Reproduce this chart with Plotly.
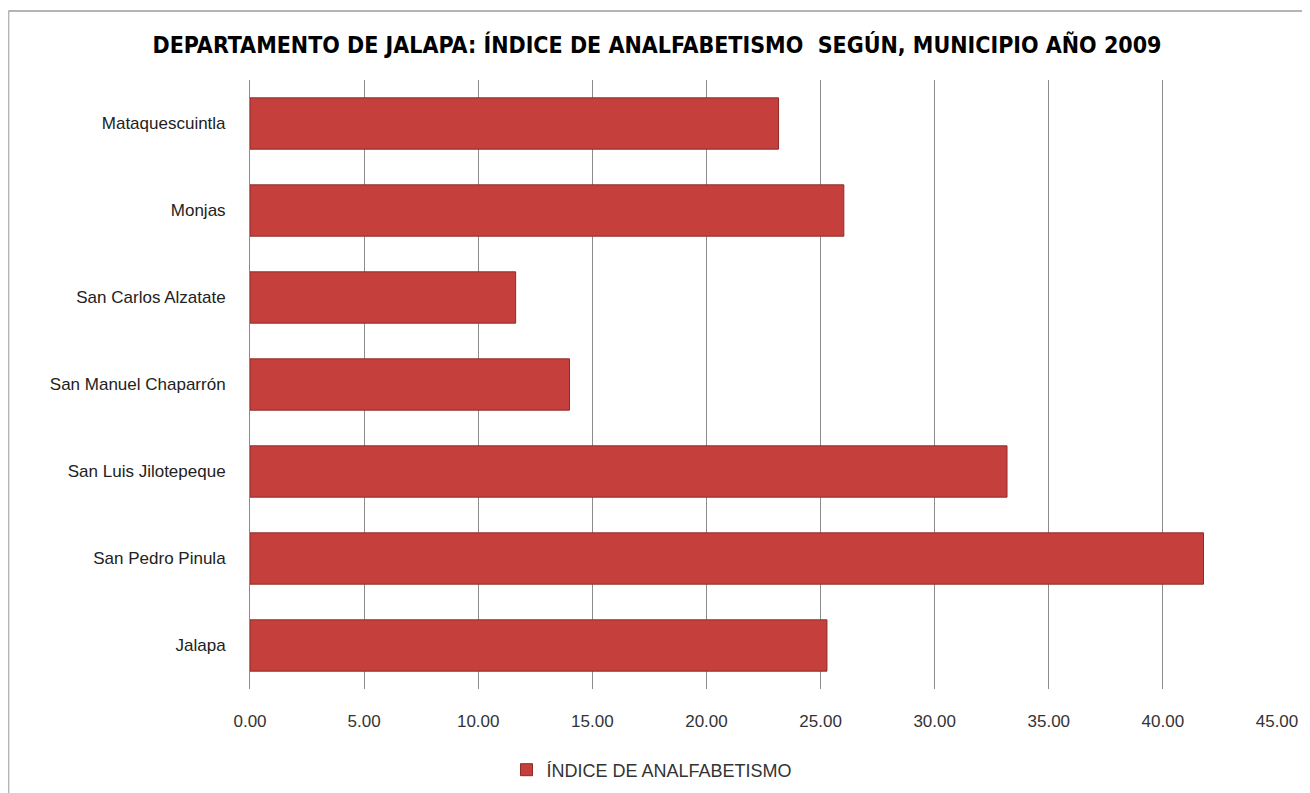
import plotly.graph_objects as go

municipios = [
    "Mataquescuintla",
    "Monjas",
    "San Carlos Alzatate",
    "San Manuel Chaparrón",
    "San Luis Jilotepeque",
    "San Pedro Pinula",
    "Jalapa",
]
indice = [23.16, 26.02, 11.64, 14.00, 33.17, 41.78, 25.28]
x_ticks = [0, 5, 10, 15, 20, 25, 30, 35, 40, 45]

# the page body has an 8px margin, so the figure is sized/placed to compensate
OFF = 8
W, H = 1310 - OFF, 793 - OFF
L, R, T, B = 250 - OFF, 23, 80 - OFF, 104
narrow = "DejaVu Sans Condensed, Liberation Sans Narrow, Liberation Sans, Arial"


def px_x(px):
    return (px - OFF - L) / (W - L - R)


def px_y(py):
    return (H - B - (py - OFF)) / (H - T - B)


fig = go.Figure()
fig.add_trace(
    go.Bar(
        x=indice,
        y=municipios,
        orientation="h",
        name="ÍNDICE DE ANALFABETISMO",
        marker=dict(color="#C5403C", line=dict(color="#8E2B29", width=1)),
    )
)

# outer chart frame (only top and left edges are visible in the picture)
frame = dict(color="#b4b4b4", width=2)
fig.add_shape(type="line", xref="paper", yref="paper",
              x0=px_x(6), x1=px_x(1320), y0=px_y(11), y1=px_y(11), line=frame)
fig.add_shape(type="line", xref="paper", yref="paper",
              x0=px_x(6), x1=px_x(6), y0=px_y(11), y1=px_y(800), line=frame)

fig.update_layout(
    width=W,
    height=H,
    margin=dict(l=L, r=R, t=T, b=B),
    paper_bgcolor="white",
    plot_bgcolor="white",
    bargap=0.41,
    title=dict(
        text="<b>DEPARTAMENTO DE JALAPA: ÍNDICE DE ANALFABETISMO  SEGÚN, MUNICIPIO AÑO 2009</b>",
        x=(657 - OFF) / W,
        xanchor="center",
        y=1 - (45 - OFF) / H,
        yanchor="middle",
        font=dict(family=narrow, size=23, color="black"),
    ),
    showlegend=True,
    legend=dict(
        orientation="h",
        x=(652 - OFF) / W,
        xanchor="center",
        xref="container",
        y=1 - (770 - OFF) / H,
        yref="container",
        yanchor="middle",
        font=dict(family="Liberation Sans, Arial", size=18, color="#333333"),
        itemwidth=30,
    ),
)

fig.update_xaxes(
    range=[0, 45],
    tickvals=x_ticks,
    ticktext=[f"{v:.2f}" for v in x_ticks],
    showgrid=True,
    gridcolor="#8c8c8c",
    gridwidth=1,
    zeroline=False,
    showline=False,
    ticks="",
    ticklabelstandoff=20,
    tickfont=dict(family="Liberation Sans, Arial", size=17, color="#333333"),
    fixedrange=True,
)
fig.update_yaxes(
    autorange="reversed",
    showline=True,
    linecolor="#8c8c8c",
    linewidth=1,
    showgrid=False,
    ticks="",
    ticklabelstandoff=20,
    tickfont=dict(family="Liberation Sans, Arial", size=17, color="#222222"),
    fixedrange=True,
)

fig.write_html("out.html")
